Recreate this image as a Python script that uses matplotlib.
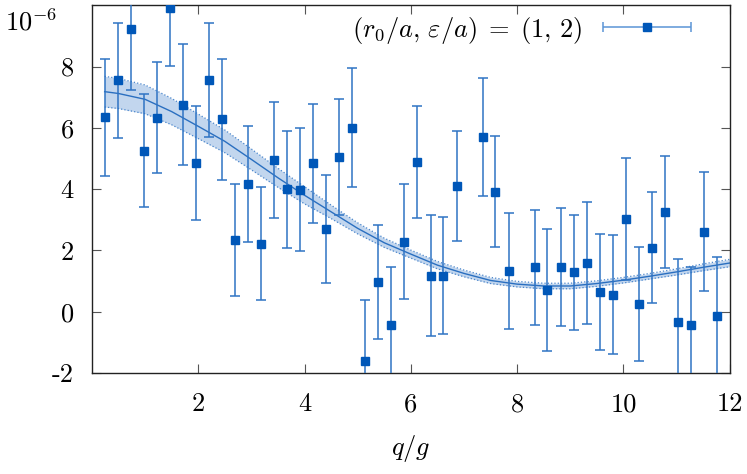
import matplotlib
matplotlib.use("Agg")
import matplotlib.pyplot as plt
import numpy as np
from matplotlib.legend_handler import HandlerErrorbar

plt.rcParams["mathtext.fontset"] = "cm"
plt.rcParams["font.family"] = "cmr10"
plt.rcParams["axes.unicode_minus"] = False

# data points (values in units of 1e-6)
q = [0.24, 0.49, 0.73, 0.98, 1.22, 1.47, 1.71, 1.96, 2.20, 2.45, 2.69, 2.94,
     3.18, 3.43, 3.67, 3.92, 4.16, 4.41, 4.65, 4.90, 5.14, 5.39, 5.63, 5.88,
     6.12, 6.37, 6.61, 6.86, 7.35, 7.59, 7.84, 8.33, 8.57, 8.82, 9.06, 9.31,
     9.55, 9.80, 10.04, 10.29, 10.53, 10.78, 11.02, 11.27, 11.51, 11.76]
val = [6.34, 7.55, 9.23, 5.26, 6.33, 9.90, 6.76, 4.85, 7.56, 6.28, 2.34, 4.17,
       2.22, 4.95, 3.99, 3.98, 4.84, 2.71, 5.05, 6.01, -1.60, 0.97, -0.43, 2.29,
       4.89, 1.18, 1.18, 4.11, 5.71, 3.91, 1.33, 1.45, 0.70, 1.45, 1.29, 1.59,
       0.64, 0.56, 3.03, 0.25, 2.09, 3.25, -0.32, -0.43, 2.61, -0.14]
err = [1.90, 1.87, 1.98, 1.83, 1.82, 1.87, 1.97, 1.86, 1.85, 1.97, 1.83, 1.90,
       1.84, 1.89, 1.91, 2.00, 1.95, 1.76, 1.90, 1.95, 1.98, 1.85, 1.88, 1.89,
       1.82, 1.97, 1.90, 1.80, 1.93, 1.81, 1.89, 1.88, 1.99, 1.93, 1.88, 2.00,
       1.88, 1.93, 1.99, 1.86, 1.82, 1.83, 2.04, 1.89, 1.94, 1.94]

# fit curve and its error band
fit_q = [0.24, 0.5, 1.0, 1.5, 2.0, 2.5, 3.0, 3.5, 4.0, 4.5, 5.0, 5.5, 6.0,
         6.5, 7.0, 7.5, 8.0, 8.5, 9.0, 9.5, 10.0, 10.5, 11.0, 11.5, 12.0]
fit_val = [7.18, 7.12, 6.93, 6.53, 6.05, 5.56, 4.97, 4.37, 3.80, 3.26, 2.72,
           2.25, 1.88, 1.52, 1.25, 1.02, 0.90, 0.84, 0.84, 0.92, 1.03, 1.16,
           1.30, 1.45, 1.59]
fit_err = [0.50, 0.49, 0.47, 0.43, 0.40, 0.37, 0.34, 0.31, 0.28, 0.22, 0.18,
           0.15, 0.13, 0.12, 0.11, 0.10, 0.09, 0.09, 0.09, 0.09, 0.09, 0.09,
           0.10, 0.11, 0.12]

xticks = [2, 4, 6, 8, 10, 12]
yticks = [-2, 0, 2, 4, 6, 8]


def main():
    fig, ax = plt.subplots(figsize=(7.47, 4.74), dpi=100)
    fig.subplots_adjust(left=0.123, right=0.977, bottom=0.213, top=0.989)

    fv = np.array(fit_val)
    fe = np.array(fit_err)
    ax.fill_between(fit_q, fv - fe, fv + fe, color="#c2d6ee", linewidth=0, zorder=1)
    ax.plot(fit_q, fv + fe, ":", color="#4a86cc", linewidth=0.9, zorder=2)
    ax.plot(fit_q, fv - fe, ":", color="#4a86cc", linewidth=0.9, zorder=2)
    ax.plot(fit_q, fv, "-", color="#2a6fc0", linewidth=1.0, zorder=2)

    ax.errorbar(q, val, yerr=err, fmt="s", color="#0057b8", ecolor="#2f74c4",
                elinewidth=1.1, capsize=3.3, capthick=1.1, markersize=6.3, zorder=3)

    # legend key: horizontal error bar
    h = ax.errorbar([np.nan], [np.nan], xerr=[1.0], fmt="s", color="#0057b8",
                    ecolor="#5b95d6", elinewidth=1.1, capsize=3.3, capthick=1.1,
                    markersize=6.3)
    ax.legend([h], [r"$(r_0/a,\,\varepsilon/a)\;=\;(1,\,2)$"], loc="center right",
              bbox_to_anchor=(0.939, 0.932), frameon=False, markerfirst=False,
              fontsize=19, handlelength=3.33, handletextpad=0.8, borderpad=0,
              borderaxespad=0, handler_map={h: HandlerErrorbar(xerr_size=1.67)})

    ax.set_xlim(0, 12)
    ax.set_ylim(-2, 10)
    ax.set_xticks(xticks)
    ax.set_xticklabels([str(t) for t in xticks])
    ax.set_yticks(yticks)
    ax.set_yticklabels([str(t) for t in yticks])
    ax.tick_params(direction="in", length=6.5, width=0.8, color="#555555",
                   labelsize=19, top=True, right=True)
    ax.tick_params(axis="x", pad=14)
    ax.tick_params(axis="y", pad=13)
    for s in ax.spines.values():
        s.set_linewidth(1.0)
        s.set_color("#222222")

    ax.text(-0.136, 0.955, r"$10^{-6}$", transform=ax.transAxes, fontsize=19,
            ha="left", va="center")
    ax.set_xlabel(r"$q/g$", fontsize=19, labelpad=12)

    fig.savefig("out.png", dpi=100)


if __name__ == "__main__":
    main()
